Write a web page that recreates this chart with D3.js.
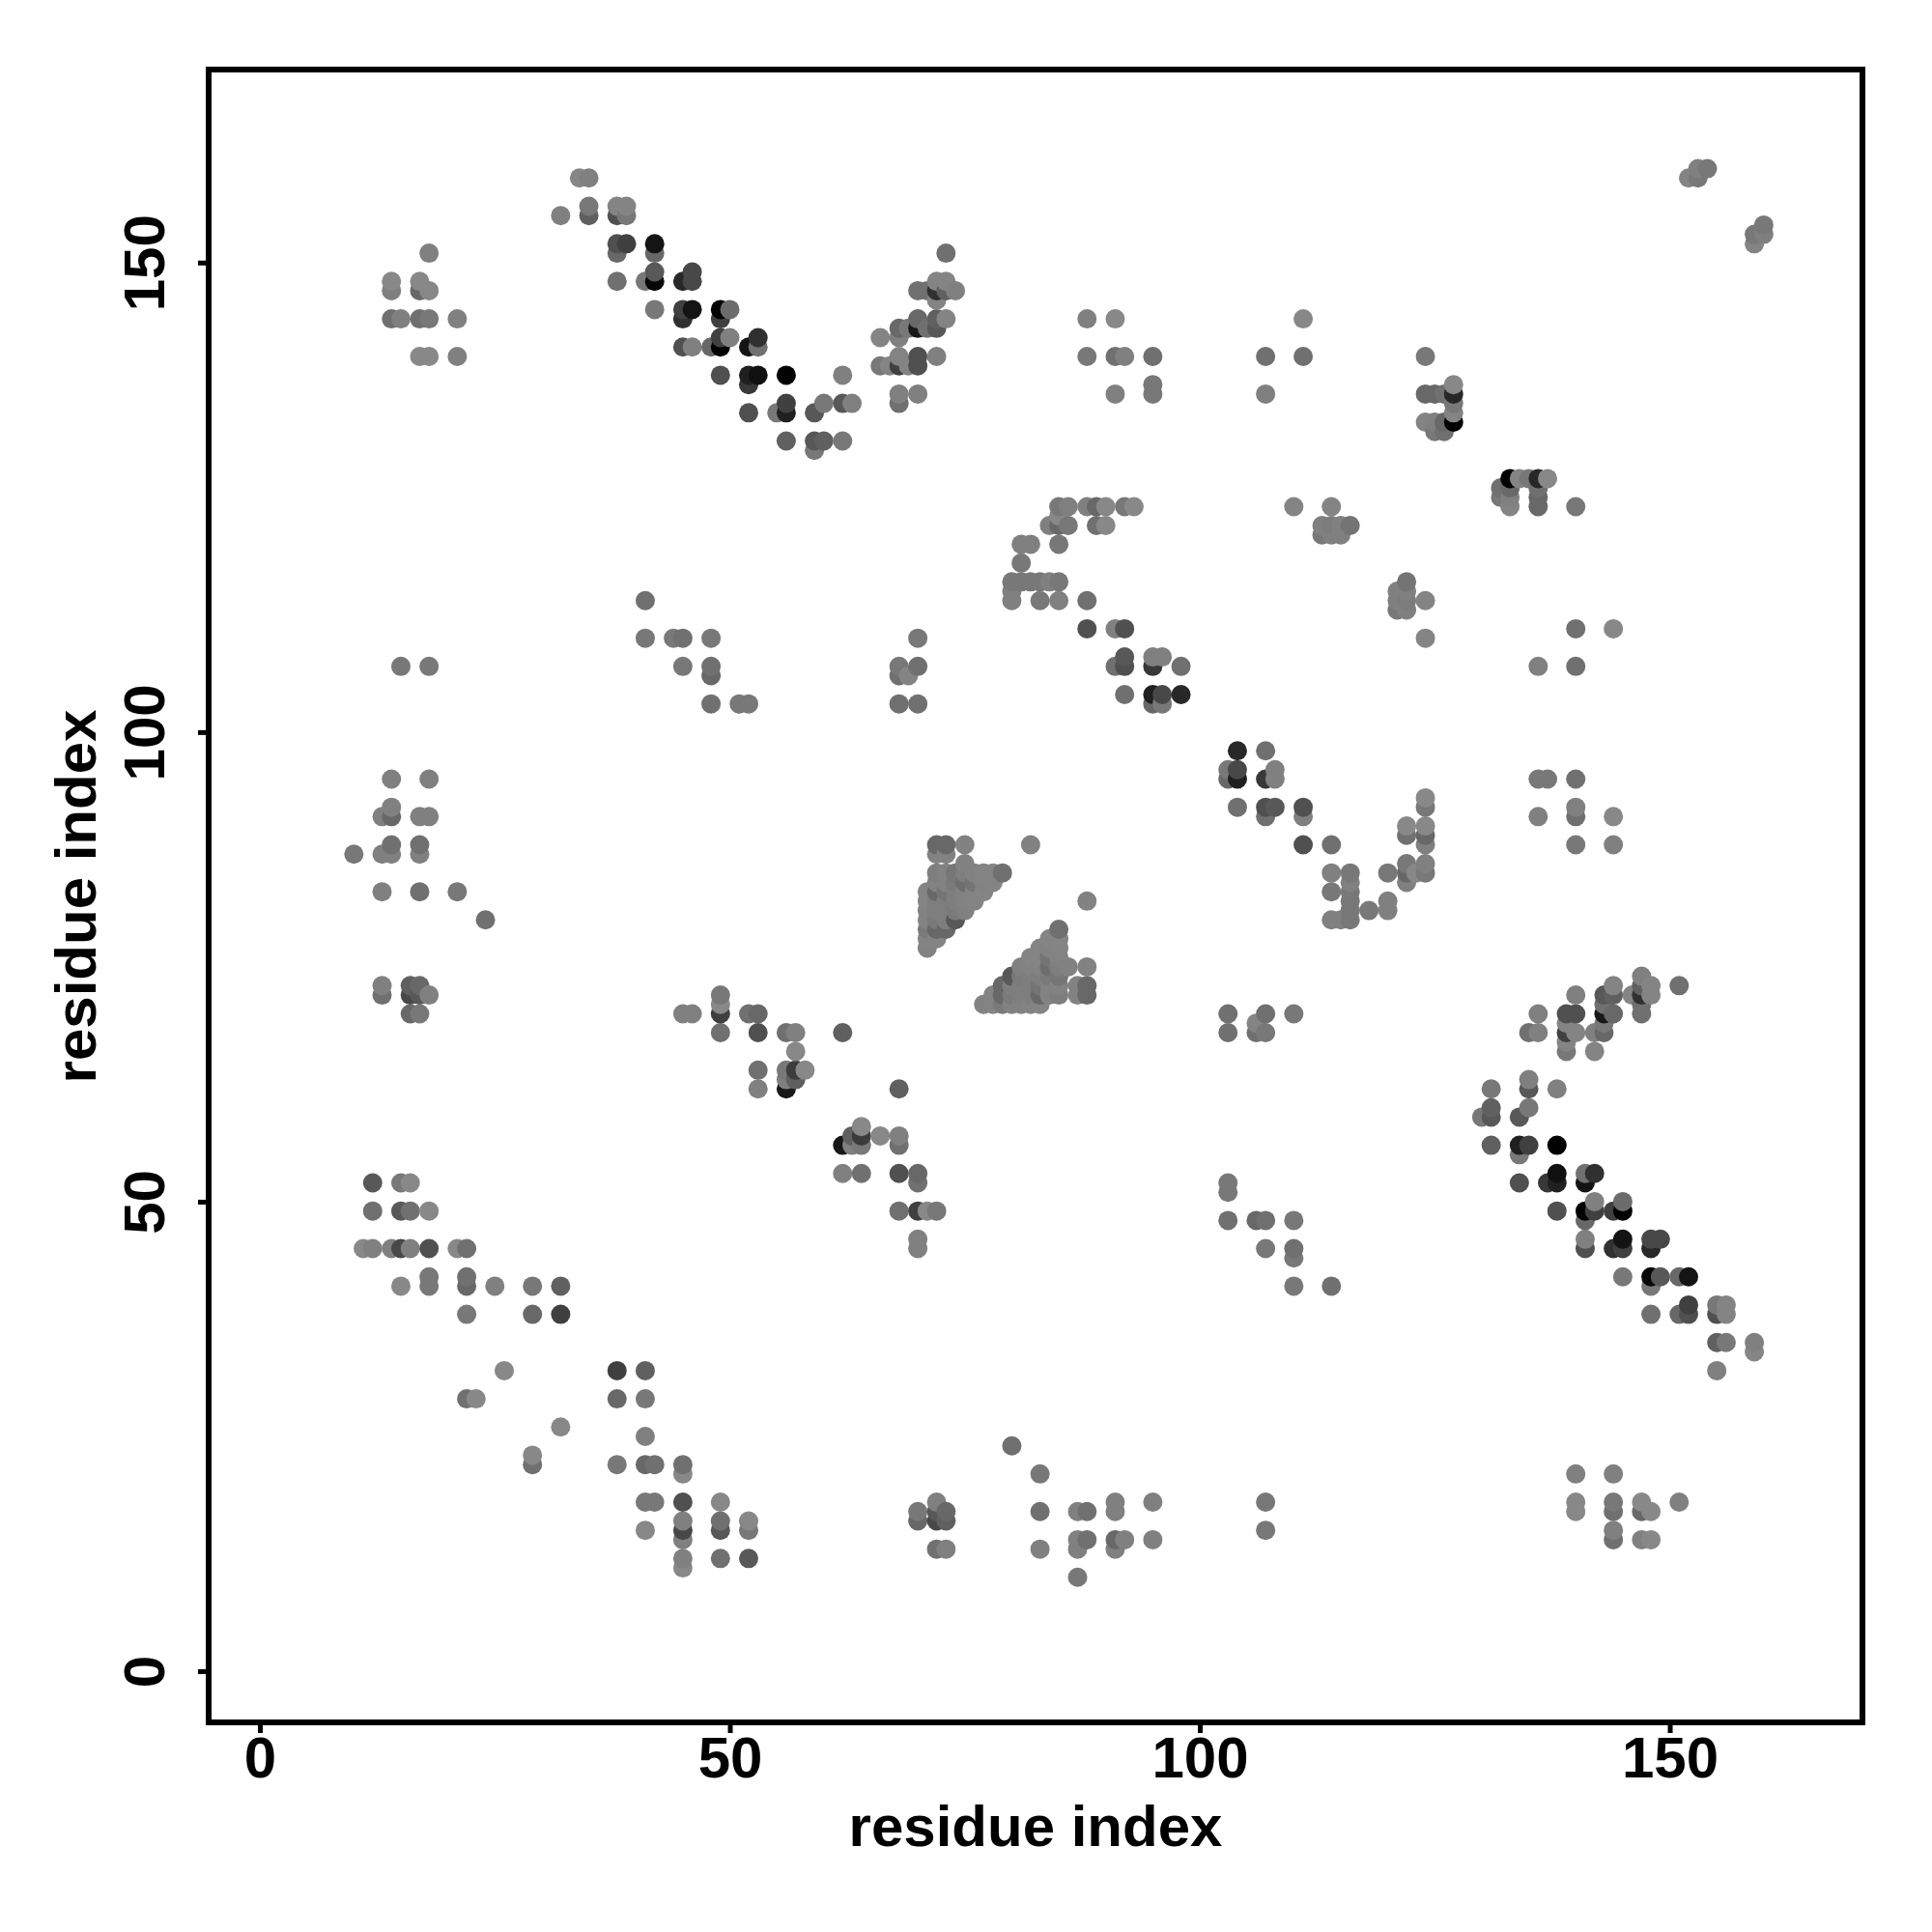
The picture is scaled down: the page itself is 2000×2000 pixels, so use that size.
<!DOCTYPE html>
<html><head><meta charset="utf-8">
<script src="https://cdnjs.cloudflare.com/ajax/libs/d3/7.8.5/d3.min.js"></script>
<style>html,body{margin:0;background:#fff}svg{display:block}text{font-family:"Liberation Sans",Arial,sans-serif;font-weight:700;fill:#000}</style>
</head><body><svg id="c" width="2000" height="2000"></svg>
<script>
// contact triples: [residue i, residue j, contact strength]; each is shown at (i,j) and (j,i)
const xTicks = [0, 50, 100, 150];
const yTicks = [0, 50, 100, 150];
const axisTitle = "residue index";
const nTermNear = [
[11,45,4],[12,45,12],[14,45,12],[15,45,68],[16,45,12],[18,45,60],[21,45,4],[22,45,28],
[12,49,28],[15,49,52],[16,49,28],[18,49,4],[12,52,52],[15,52,20],[16,52,4],
[15,41,4],[18,41,20],[18,42,20],[22,41,36],[22,42,28],[25,41,12],[29,41,20],[32,41,44],
[22,38,20],[29,38,36],[32,38,76],[26,32,4],[22,29,28],[23,29,4]
];
const nTermMid = [
[14,95,12],[18,95,12],[13,91,12],[14,92,12],[14,91,36],[17,91,12],[18,91,12],[14,88,28],[17,88,28],
[10,87,20],[13,87,12],[14,87,12],[17,87,12],[13,83,12],[17,83,28],[21,83,20],[24,80,28],
[13,73,12],[13,72,28],[16,73,44],[16,72,68],[17,73,36],[17,72,52],[18,72,12],[16,70,36],[17,70,20],
[15,107,20],[18,107,20]
];
const nTermFar = [
[14,148,4],[14,147,12],[17,148,4],[17,147,36],[18,147,4],[14,144,28],[15,144,12],[17,144,28],[18,144,20],
[21,144,12],[17,140,4],[18,140,4],[21,140,12],[18,151,12]
];
const strandLeft = [
[34,159,6],[35,159,12],[32,155,12],[35,156,20],[35,155,44],[38,155,60],[38,156,8],[39,156,8],[39,155,20],
[38,152,60],[39,152,76],[38,151,36],[42,152,120],[42,151,36],[38,148,28],[41,148,20],[42,148,132],[42,149,52],
[45,148,100],[46,148,68],[46,149,68],[42,145,20],[45,145,76],[45,144,92],[46,145,120],[49,145,138],[49,144,76],[50,145,32],
[45,141,60],[46,141,12],[48,141,36],[49,141,138],[49,142,76],[50,142,12],[52,141,120],[53,141,28],[53,142,92],
[49,138,60],[52,138,108],[52,137,84],[53,138,124],[56,138,138],
[52,134,60],[55,134,20],[56,134,108],[56,135,76],[59,134,52],[60,135,20],[62,135,52],[63,135,12],[62,138,12],
[56,131,44],[59,131,52],[60,131,44],[62,131,20],[59,130,20]
];
const strandRight = [
[66,142,8],[68,142,12],[68,143,36],[69,143,20],[70,143,116],[70,144,36],[71,143,28],[72,143,52],[72,144,44],[73,144,8],[72,140,12],
[66,139,20],[67,139,8],[68,139,76],[68,140,8],[69,139,8],[70,139,60],[70,140,60],[68,136,12],[68,135,28],[70,136,12],
[70,147,28],[71,147,28],[72,147,92],[72,146,8],[72,148,8],[73,148,8],[73,147,44],[74,147,12],[73,151,28]
];
const midBlockA = [
[41,114,28],[41,110,20],[44,110,20],[45,110,28],[48,110,20],[45,107,20],[48,107,28],[48,106,36],[48,103,28],[51,103,20],[52,103,20],
[68,107,20],[69,106,8],[68,106,28],[70,107,28],[70,110,20],[68,103,28],[70,103,28]
];
const midBlockB = [
[49,72,20],[49,71,4],[49,70,76],[49,68,28],[45,70,12],[46,70,12],[52,70,28],[53,70,36],[53,68,60],[56,68,28],[57,68,12],[62,68,44],
[57,66,4],[53,64,28],[53,62,12],[56,64,20],[56,63,12],[56,62,116],[57,64,80],[57,63,44],[58,64,4]
];
const helixTriangle = [
[72,85,14],[73,85,10],[74,85,22],[75,85,14],[76,85,10],[77,85,8],[78,85,8],[79,85,28],
[72,84,10],[73,84,10],[74,84,18],[75,84,30],[76,84,24],[77,84,10],[78,84,8],
[71,83,8],[72,83,36],[73,83,24],[74,83,14],[75,83,10],[76,83,8],[77,83,8],
[71,82,8],[72,82,14],[73,82,14],[74,82,14],[75,82,10],[76,82,8],
[71,81,10],[72,81,14],[73,81,14],[74,81,18],[75,81,12],
[71,80,10],[72,80,18],[73,80,14],[74,80,52],
[71,79,18],[72,79,36],[73,79,36],[71,78,8],[72,78,8],[71,77,10],
[72,88,36],[73,88,36],[75,88,10],[72,87,10],[73,87,10],[75,86,10],[82,88,10]
];
const centreBlock = [
[85,124,20],[86,124,12],[88,124,12],[89,124,36],[90,124,4],[92,124,20],[93,124,4],[85,123,4],[84,122,12],[85,122,36],[86,122,20],
[89,122,28],[90,122,4],[81,120,12],[82,120,12],[85,120,20],[81,118,20],[80,116,20],[81,116,20],[82,116,20],[83,116,20],[84,116,12],[85,116,20],
[80,115,12],[80,114,12],[83,114,20],[85,114,12],[88,114,28],[88,111,60],[91,111,12],[92,111,60],[92,108,52],[95,108,12],[96,108,12],
[91,107,28],[92,107,60],[95,107,84],[98,107,28],[92,104,28],[95,104,108],[96,104,68],[98,104,100],[95,103,36],[96,103,20]
];
const cTermFar = [
[88,144,12],[91,144,4],[111,144,4],[88,140,20],[91,140,28],[92,140,12],[95,140,28],[107,140,28],[111,140,28],
[95,137,20],[95,136,20],[91,136,12],[107,136,12]
];
const cTermBlock = [
[124,140,20],[124,136,36],[125,136,36],[126,136,28],[127,136,100],[127,137,4],[127,135,20],[127,134,8],[127,133,138],
[124,133,8],[125,133,12],[126,133,36],[125,132,20],[126,132,28],
[110,124,8],[114,124,8],[113,122,12],[114,122,16],[115,122,12],[116,122,24],[113,121,20],[114,121,12],[115,121,12],
[152,159,8],[153,159,20],[153,160,12],[154,160,20]
];

const svg = d3.select("#c");
const frame = {l:216, r:1928, t:72, b:1783};
const x = d3.scaleLinear().domain([-5.45,170.5]).range([frame.l, frame.r]);
const y = d3.scaleLinear().domain([-5.45,170.55]).range([frame.b, frame.t]);
const shade = d3.scaleLinear().domain([0,140]).range(["rgb(140,140,140)","rgb(0,0,0)"]);

const contacts = [].concat(nTermNear,nTermMid,nTermFar,strandLeft,strandRight,midBlockA,midBlockB,helixTriangle,centreBlock,cTermFar,cTermBlock);
const points = contacts.flatMap(([i,j,s]) => [{x:i,y:j,s},{x:j,y:i,s}])
  .sort((a,b) => d3.ascending(a.x,b.x) || d3.ascending(a.y,b.y));

svg.append("g").selectAll("circle").data(points).join("circle")
  .attr("cx",d=>x(d.x)).attr("cy",d=>y(d.y)).attr("r",10).attr("fill",d=>shade(d.s));

svg.append("rect").attr("x",frame.l).attr("y",frame.t).attr("width",frame.r-frame.l).attr("height",frame.b-frame.t)
  .attr("fill","none").attr("stroke","#000").attr("stroke-width",6);

const gx = svg.append("g").attr("transform",`translate(0,${frame.b})`)
  .call(d3.axisBottom(x).tickValues(xTicks).tickSize(11).tickPadding(14));
const gy = svg.append("g").attr("transform",`translate(${frame.l},0)`)
  .call(d3.axisLeft(y).tickValues(yTicks).tickSize(11));
[gx,gy].forEach(g=>{
  g.select(".domain").remove();
  g.attr("font-family",null).attr("font-size",null);
  g.selectAll("line").attr("stroke","#000").attr("stroke-width",5);
  g.selectAll("text").style("font-size","60px");
});
gx.selectAll("text").attr("dy",null).attr("y",null).attr("transform","translate(0,57)");
gy.selectAll("text").attr("x",null).attr("dy",null).attr("text-anchor","middle").attr("transform","translate(-46,0) rotate(-90)");

svg.append("text").attr("x",1072).attr("y",1911).attr("text-anchor","middle").style("font-size","60px").text(axisTitle);
svg.append("text").attr("transform","translate(99,928) rotate(-90)").attr("text-anchor","middle").style("font-size","60px").text(axisTitle);
</script></body></html>
